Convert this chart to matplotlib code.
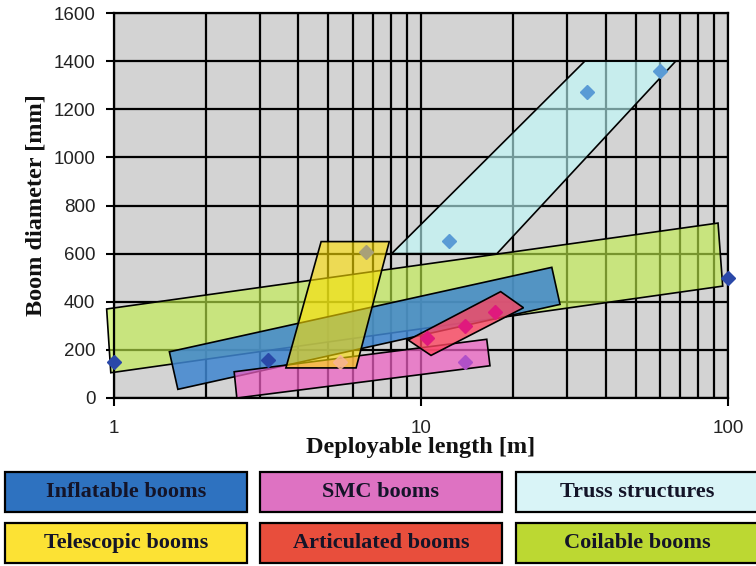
import matplotlib
matplotlib.use("Agg")
import matplotlib.pyplot as plt
from matplotlib.patches import Polygon, Rectangle
from matplotlib.ticker import LogLocator, NullFormatter, FixedLocator, FixedFormatter

# Envelope corners of each boom family: deployable length [m], boom diameter [mm]
coilable_len = [0.95, 92.8, 96.1, 0.98]
coilable_dia = [370, 727, 465, 105]
inflatable_len = [1.52, 26.7, 28.4, 1.62]
inflatable_dia = [192, 543, 389, 36]
smc_len = [2.47, 16.4, 16.8, 2.52]
smc_dia = [109, 244, 134, 0]
articulated_len = [9.1, 18.2, 21.6, 10.8]
articulated_dia = [241, 442, 375, 177]
telescopic_len = [4.74, 7.9, 6.16, 3.64]
telescopic_dia = [650, 650, 125, 125]
truss_len = [34.2, 67.6, 17.7, 8.04]
truss_dia = [1400, 1400, 600, 600]

# Example booms
inflatable_pt_len = [1.0, 3.18, 100]
inflatable_pt_dia = [150, 157, 500]
truss_pt_len = [12.4, 34.8, 60.0]
truss_pt_dia = [654, 1270, 1360]
telescopic_pt_len = [6.65]
telescopic_pt_dia = [605]
light_pt_len = [5.45]
light_pt_dia = [151]
articulated_pt_len = [10.5, 13.9, 17.5]
articulated_pt_dia = [248, 299, 356]
smc_pt_len = [13.9]
smc_pt_dia = [151]

y_ticks = [0, 200, 400, 600, 800, 1000, 1200, 1400, 1600]
x_ticks = [1, 10, 100]
x_tick_labels = ["1", "10", "100"]

legend_labels = [["Inflatable booms", "SMC booms", "Truss structures"],
                 ["Telescopic booms", "Articulated booms", "Coilable booms"]]
legend_colors = [["#2e72c0", "#de72c2", "#d9f4f7"],
                 ["#fce234", "#e84e3c", "#bcd832"]]

W, H = 756, 566
fig = plt.figure(figsize=(W / 100, H / 100), dpi=100)
ax = fig.add_axes([113.5 / W, 1 - 398 / H, (728 - 113.5) / W, (398 - 13) / H])
ax.set_facecolor("#d3d3d3")
ax.set_xscale("log")
ax.set_xlim(1, 100)
ax.set_ylim(0, 1600)

# Grid: every decade subdivision vertically, every 200 mm horizontally
ax.xaxis.set_major_locator(FixedLocator(x_ticks))
ax.xaxis.set_major_formatter(FixedFormatter(x_tick_labels))
ax.xaxis.set_minor_locator(LogLocator(base=10, subs=range(2, 10)))
ax.xaxis.set_minor_formatter(NullFormatter())
ax.yaxis.set_major_locator(FixedLocator(y_ticks))
ax.grid(True, which="both", axis="x", color="black", linewidth=1.6, zorder=0)
ax.grid(True, which="major", axis="y", color="black", linewidth=1.6, zorder=0)
ax.set_axisbelow(True)
for s in ax.spines.values():
    s.set_linewidth(1.6)

ax.tick_params(axis="both", which="major", direction="out", length=6, width=1.5,
               colors="black", labelcolor="#222222")
ax.tick_params(axis="x", which="major", pad=10)
ax.tick_params(axis="y", which="major", pad=7)
ax.tick_params(axis="x", which="minor", length=0)
for lab in ax.get_xticklabels() + ax.get_yticklabels():
    lab.set_fontfamily("Liberation Sans")
    lab.set_fontsize(13.5)

label_font = dict(family="Liberation Serif", weight="bold", size=17.5, color="#111111")
ax.set_xlabel("Deployable length [m]", labelpad=0, **label_font)
ax.set_ylabel("Boom diameter [mm]", labelpad=5, **label_font)

envelopes = [
    (coilable_len, coilable_dia, "#c2f04a", 0.62),
    (inflatable_len, inflatable_dia, "#3f86d0", 0.85),
    (smc_len, smc_dia, "#f060c4", 0.72),
    (articulated_len, articulated_dia, "#ff4560", 0.78),
    (telescopic_len, telescopic_dia, "#ffe000", 0.6),
    (truss_len, truss_dia, "#c0ffff", 0.6),
]
for i, (xs, ys, col, a) in enumerate(envelopes):
    ax.add_patch(Polygon(list(zip(xs, ys)), closed=True, facecolor=col, alpha=a,
                         edgecolor="none", zorder=2 + i, clip_on=False))
    ax.add_patch(Polygon(list(zip(xs, ys)), closed=True, facecolor="none",
                         edgecolor="black", linewidth=1.2, zorder=2 + i, clip_on=False))

# Example booms drawn over the envelopes
mk = dict(marker="D", markersize=7.5, linestyle="none", clip_on=False, zorder=10)
ax.plot(inflatable_pt_len, inflatable_pt_dia, color="#2a48a8", **mk)
ax.plot(truss_pt_len, truss_pt_dia, color="#5a9bd5", **mk)
ax.plot(telescopic_pt_len, telescopic_pt_dia, color="#a8a078", **mk)
ax.plot(light_pt_len, light_pt_dia, color="#f7b496", alpha=0.8, **mk)
ax.plot(articulated_pt_len, articulated_pt_dia, color="#e0197d", **mk)
ax.plot(smc_pt_len, smc_pt_dia, color="#b050c8", **mk)

# Colour key below the chart
box_x = [5, 260, 516]
box_w = 242
row_y = [472, 523]
box_h = 40
for r in range(2):
    for c in range(3):
        x0, y0 = box_x[c], row_y[r]
        fig.patches.append(Rectangle((x0 / W, 1 - (y0 + box_h) / H), box_w / W, box_h / H,
                                     transform=fig.transFigure, facecolor=legend_colors[r][c],
                                     edgecolor="black", linewidth=1.6))
        fig.text((x0 + box_w / 2) / W, 1 - (y0 + box_h / 2) / H, legend_labels[r][c],
                 ha="center", va="center", family="Liberation Serif", weight="bold",
                 size=16, color="#141428")

fig.savefig("out.png", dpi=100)
